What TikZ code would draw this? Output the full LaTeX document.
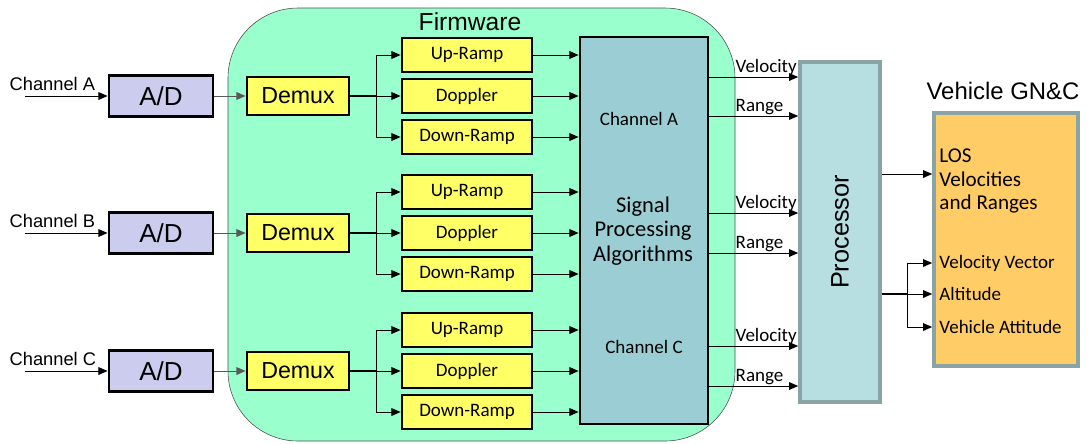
\documentclass[tikz,border=0pt]{standalone}
\usepackage{fontspec}
\setmainfont{Liberation Sans}
\newfontfamily\calfont{Carlito}
\usepackage{tikz}
\usetikzlibrary{positioning, arrows.meta, calc}

\definecolor{fwgreen}{RGB}{153,255,204}
\definecolor{adblue}{RGB}{204,204,238}
\definecolor{boxyellow}{RGB}{255,255,102}
\definecolor{spteal}{RGB}{154,206,212}
\definecolor{procblue}{RGB}{183,222,225}
\definecolor{procedge}{RGB}{137,163,166}
\definecolor{gncorange}{RGB}{255,204,102}

\begin{document}
\begin{tikzpicture}[
  x=0.025cm, y=-0.025cm,
  adbox/.style={draw, line width=2pt, fill=adblue, minimum width=2.6cm, minimum height=1.02cm,
                font=\fontsize{18.5}{20}\selectfont},
  demux/.style={draw, line width=2pt, fill=boxyellow, minimum width=2.55cm, minimum height=0.95cm,
                font=\fontsize{16.5}{18}\selectfont},
  ramp/.style={draw, line width=2pt, fill=boxyellow, minimum width=3.25cm, minimum height=0.85cm,
               font=\calfont\fontsize{13.5}{15}\selectfont},
  chan/.style={font=\fontsize{13}{15}\selectfont, inner sep=1pt},
  tag/.style={font=\calfont\fontsize{13.5}{15}\selectfont, inner sep=1pt},
  arrow/.style={-{Triangle[length=6.5pt, width=5.5pt]}, line width=0.7pt},
  wire/.style={line width=0.8pt}
]
\useasboundingbox (0,0) rectangle (1089,443);

% Firmware region
\draw[fill=fwgreen, draw=black!70, rounded corners=1.75cm] (228,8) rectangle (735,441);
\node[font=\fontsize{17.5}{19}\selectfont] (fwlabel) at (470,22) {Firmware};

% Signal processing block
\node[draw, line width=2pt, fill=spteal, minimum width=3.2cm, minimum height=9.675cm] (sp) at (644,230.5) {};
\node[tag] (spA) at (639,119) {Channel A};
\node[tag, font=\calfont\fontsize{16}{17.5}\selectfont, align=center] (sptext) at (643,231)
  {Signal\\Processing\\Algorithms};
\node[tag] (spC) at (644,347) {Channel C};

% Processor and vehicle GN&C
\node[draw=procedge, line width=2.6pt, fill=procblue, minimum width=2cm, minimum height=8.5cm] (proc) at (840,232) {};
\node[rotate=90, font=\fontsize{18}{19}\selectfont] (proctext) at (proc.center) {Processor};
\node[draw=procedge, line width=2.6pt, fill=gncorange, minimum width=3.6cm, minimum height=6.325cm] (gnc) at (1006,239.5) {};
\node[font=\fontsize{17}{18}\selectfont] (gnctitle) at (1003,91) {Vehicle GN\&C};

% Three receive channels
\foreach \ch/\y/\vy/\ry in {A/96/77/116, B/233/213/253, C/371/346/386} {
  \node[chan, anchor=west] (name\ch) at (8,\y-12) {Channel \ch};
  \coordinate (in\ch) at (25,\y);
  \node[adbox] (ad\ch) at (161,\y) {A/D};
  \node[demux] (demux\ch) at (298,\y) {Demux};
  \node[ramp] (up\ch)   at (467,\y-41) {Up-Ramp};
  \node[ramp] (dop\ch)  at (467,\y)    {Doppler};
  \node[ramp] (down\ch) at (467,\y+41) {Down-Ramp};
  \coordinate (br\ch) at (376,\y);

  \draw[arrow] (in\ch) -- (ad\ch);
  \draw[arrow, gray!70!black] (ad\ch) -- (demux\ch);
  \draw[wire] (demux\ch) -- (br\ch);
  \draw[arrow] (br\ch) -- (dop\ch);
  \draw[arrow] (br\ch) |- (up\ch);
  \draw[arrow] (br\ch) |- (down\ch);
  \draw[arrow] (up\ch) -- (up\ch -| sp.west);
  \draw[arrow] (dop\ch) -- (dop\ch -| sp.west);
  \draw[arrow] (down\ch) -- (down\ch -| sp.west);

  % outputs to the processor
  \coordinate (vel\ch) at (720,\vy);
  \coordinate (rng\ch) at (720,\ry);
  \draw[arrow] (sp.east |- vel\ch) -- (proc.west |- vel\ch);
  \draw[arrow] (sp.east |- rng\ch) -- (proc.west |- rng\ch);
  \node[tag, anchor=south west] (vlab\ch) at (734,\vy) {Velocity};
  \node[tag, anchor=south west] (rlab\ch) at (734,\ry) {Range};
}

% GN&C inputs
\coordinate (losin) at (900,174);
\draw[arrow] (proc.east |- losin) -- (gnc.west |- losin);
\node[tag, font=\calfont\fontsize{15}{16.5}\selectfont, align=left, anchor=west, inner sep=5pt] (los) at (gnc.west |- 0,181)
  {LOS\\Velocities\\and Ranges};

\node[tag, anchor=west, inner sep=5pt] (vvec) at (gnc.west |- 0,263) {Velocity Vector};
\node[tag, anchor=west, inner sep=5pt] (alt)  at (gnc.west |- 0,294) {Altitude};
\node[tag, anchor=west, inner sep=5pt] (vatt) at (gnc.west |- 0,327) {Vehicle Attitude};
\coordinate (br) at (907,294);
\draw[wire] (proc.east |- br) -- (br);
\draw[arrow] (br) |- (vvec.west);
\draw[arrow] (br) -- (alt.west);
\draw[arrow] (br) |- (vatt.west);

\end{tikzpicture}
\end{document}
